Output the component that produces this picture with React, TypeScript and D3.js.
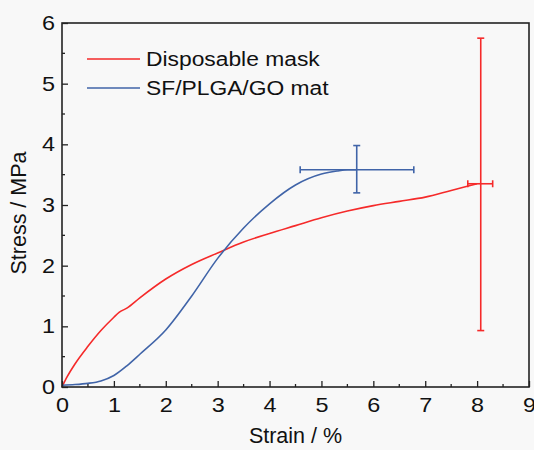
import React, { useEffect, useRef } from "react";
import * as d3 from "d3";

// --- Data
const maskStrain = [0, 0.1, 0.25, 0.5, 0.75, 1.0, 1.1, 1.25, 1.5, 2.0, 2.5, 3.0, 3.5, 4.0, 4.5, 5.0, 5.5, 6.0, 6.5, 7.0, 7.5, 8.0];
const maskStress = [0, 0.17, 0.38, 0.67, 0.93, 1.15, 1.23, 1.3, 1.47, 1.78, 2.02, 2.21, 2.39, 2.53, 2.66, 2.79, 2.9, 2.99, 3.06, 3.13, 3.24, 3.35];

const matStrain = [0, 0.25, 0.5, 0.75, 1.0, 1.25, 1.5, 2.0, 2.5, 3.0, 3.5, 4.0, 4.5, 5.0, 5.3, 5.5, 5.68];
const matStress = [0.03, 0.04, 0.06, 0.1, 0.19, 0.35, 0.54, 0.94, 1.5, 2.12, 2.62, 3.02, 3.33, 3.51, 3.56, 3.58, 3.58];

// error bars: [x, y, xLow, xHigh, yLow, yHigh]
const maskError = [8.07, 3.35, 7.82, 8.3, 0.93, 5.75];
const matError = [5.68, 3.58, 4.59, 6.78, 3.2, 3.98];

const xTicks = [0, 1, 2, 3, 4, 5, 6, 7, 8, 9];
const yTicks = [0, 1, 2, 3, 4, 5, 6];

const seriesNames = ["Disposable mask", "SF/PLGA/GO mat"];
const seriesColors = ["#f52a2a", "#4064a8"];

const App: React.FC = () => {
  const ref = useRef<SVGSVGElement | null>(null);

  useEffect(() => {
    if (!ref.current) return;
    document.body.style.margin = "0";

    const width = 534;
    const height = 450;
    const margin = { top: 23, right: 5, bottom: 63, left: 62 };
    const font = "'Liberation Sans', Arial, sans-serif";
    const stretch = "scale(1.17,1)"; // the source text is a bit wide

    const root = d3.select(ref.current);
    root.selectAll("*").remove();
    root.attr("width", width).attr("height", height);

    root.append("rect").attr("width", width).attr("height", height).attr("fill", "#f8f8f8");

    const x = d3.scaleLinear().domain([0, 9]).range([margin.left, width - margin.right]);
    const y = d3.scaleLinear().domain([0, 6]).range([height - margin.bottom, margin.top]);

    const svg = root.append("g");

    // --- Series
    const line = d3
      .line<[number, number]>()
      .x((d) => x(d[0]))
      .y((d) => y(d[1]))
      .curve(d3.curveMonotoneX);

    const series = [
      d3.zip(maskStrain, maskStress) as [number, number][],
      d3.zip(matStrain, matStress) as [number, number][],
    ];

    series.forEach((pts, i) => {
      svg
        .append("path")
        .datum(pts)
        .attr("d", line)
        .attr("fill", "none")
        .attr("stroke", seriesColors[i])
        .attr("stroke-width", 1.6);
    });

    // --- Error bars
    [maskError, matError].forEach((e, i) => {
      const [cx, cy, xl, xh, yl, yh] = e;
      const g = svg.append("g").attr("stroke", seriesColors[i]).attr("stroke-width", 1.6);
      const cap = 3.5;
      g.append("line").attr("x1", x(xl)).attr("x2", x(xh)).attr("y1", y(cy)).attr("y2", y(cy));
      g.append("line").attr("x1", x(cx)).attr("x2", x(cx)).attr("y1", y(yl)).attr("y2", y(yh));
      g.append("line").attr("x1", x(xl)).attr("x2", x(xl)).attr("y1", y(cy) - cap).attr("y2", y(cy) + cap);
      g.append("line").attr("x1", x(xh)).attr("x2", x(xh)).attr("y1", y(cy) - cap).attr("y2", y(cy) + cap);
      g.append("line").attr("x1", x(cx) - cap).attr("x2", x(cx) + cap).attr("y1", y(yl)).attr("y2", y(yl));
      g.append("line").attr("x1", x(cx) - cap).attr("x2", x(cx) + cap).attr("y1", y(yh)).attr("y2", y(yh));
    });

    // --- Frame
    svg
      .append("rect")
      .attr("x", x(0))
      .attr("y", y(6))
      .attr("width", x(9) - x(0))
      .attr("height", y(0) - y(6))
      .attr("fill", "none")
      .attr("stroke", "#222")
      .attr("stroke-width", 1.6);

    // --- Axes (inward ticks)
    const xAxis = d3
      .axisBottom(x)
      .tickValues(xTicks)
      .tickSize(-6)
      .tickFormat(d3.format("d"));
    const xg = svg.append("g").attr("transform", `translate(0,${y(0)})`).call(xAxis);
    xg.select(".domain").remove();
    xg.selectAll("line").attr("stroke", "#222").attr("stroke-width", 1.3);
    xg.selectAll("text")
      .attr("y", 11)
      .attr("dy", "0.71em")
      .attr("transform", stretch)
      .style("font-family", font)
      .style("font-size", "20px")
      .attr("fill", "#111");

    const xMinor = d3.range(0.5, 9, 1);
    svg
      .append("g")
      .selectAll("line")
      .data(xMinor)
      .join("line")
      .attr("x1", (d) => x(d))
      .attr("x2", (d) => x(d))
      .attr("y1", y(0))
      .attr("y2", y(0) - 3)
      .attr("stroke", "#222")
      .attr("stroke-width", 1.3);

    const yAxis = d3
      .axisLeft(y)
      .tickValues(yTicks)
      .tickSize(-6)
      .tickFormat(d3.format("d"));
    const yg = svg.append("g").attr("transform", `translate(${x(0)},0)`).call(yAxis);
    yg.select(".domain").remove();
    yg.selectAll("line").attr("stroke", "#222").attr("stroke-width", 1.3);
    yg.selectAll("text")
      .attr("x", -6)
      .attr("transform", stretch)
      .style("font-family", font)
      .style("font-size", "20px")
      .attr("fill", "#111");

    const yMinor = d3.range(0.5, 6, 1);
    svg
      .append("g")
      .selectAll("line")
      .data(yMinor)
      .join("line")
      .attr("x1", x(0))
      .attr("x2", x(0) + 3)
      .attr("y1", (d) => y(d))
      .attr("y2", (d) => y(d))
      .attr("stroke", "#222")
      .attr("stroke-width", 1.3);

    // --- Axis titles
    svg
      .append("text")
      .attr("x", (x(0) + x(9)) / 2)
      .attr("y", 443)
      .attr("text-anchor", "middle")
      .style("font-family", font)
      .style("font-size", "21.5px")
      .attr("fill", "#111")
      .text("Strain / %");

    svg
      .append("text")
      .attr("transform", `translate(26,${(y(0) + y(6)) / 2 + 8}) rotate(-90)`)
      .attr("text-anchor", "middle")
      .style("font-family", font)
      .style("font-size", "21.5px")
      .attr("fill", "#111")
      .text("Stress / MPa");

    // --- Legend
    const legend = svg.append("g").attr("transform", "translate(87,59)");
    seriesNames.forEach((name, i) => {
      const row = legend.append("g").attr("transform", `translate(0,${i * 29})`);
      row
        .append("line")
        .attr("x1", 0)
        .attr("x2", 53)
        .attr("stroke", seriesColors[i])
        .attr("stroke-width", 1.6);
      row
        .append("text")
        .attr("transform", `translate(59,0) ${stretch}`)
        .attr("dy", "0.36em")
        .style("font-family", font)
        .style("font-size", "19.5px")
        .attr("fill", "#111")
        .text(name);
    });

    return () => {
      root.selectAll("*").remove();
    };
  }, []);

  return <svg ref={ref} style={{ display: "block" }}></svg>;
};

export default App;
